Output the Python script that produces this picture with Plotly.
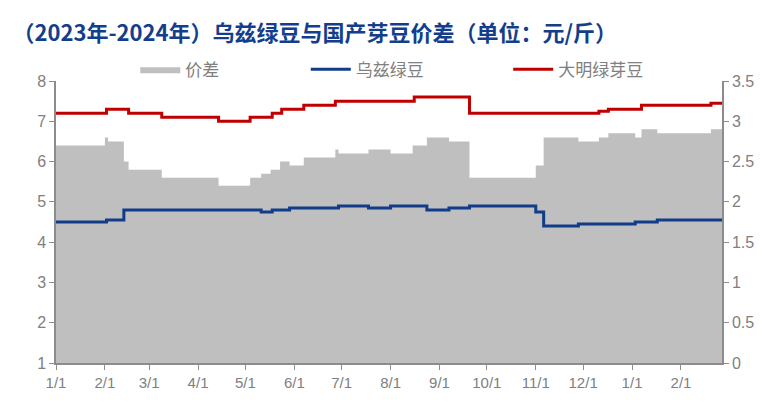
import plotly.graph_objects as go

# 大明绿芽豆 (元/斤), change points
red_dates = ["2023-01-01", "2023-02-02", "2023-02-16", "2023-03-09", "2023-04-14",
             "2023-05-04", "2023-05-18", "2023-05-24", "2023-06-07", "2023-06-27",
             "2023-08-16", "2023-09-20", "2023-12-11", "2023-12-17", "2024-01-07",
             "2024-02-20", "2024-02-27"]
red_vals = [7.2, 7.3, 7.2, 7.1, 7.0,
            7.1, 7.2, 7.3, 7.4, 7.5,
            7.6, 7.2, 7.25, 7.3, 7.4,
            7.45, 7.45]

# 乌兹绿豆 (元/斤), change points
blue_dates = ["2023-01-01", "2023-02-02", "2023-02-13", "2023-05-11", "2023-05-18",
              "2023-05-29", "2023-06-29", "2023-07-18", "2023-08-01", "2023-08-24",
              "2023-09-07", "2023-09-20", "2023-11-01", "2023-11-06", "2023-11-28",
              "2024-01-03", "2024-01-17", "2024-02-27"]
blue_vals = [4.5, 4.55, 4.8, 4.75, 4.8,
             4.85, 4.9, 4.85, 4.9, 4.8,
             4.85, 4.9, 4.75, 4.4, 4.45,
             4.5, 4.55, 4.55]

# 价差 (元/斤), change points
spread_dates = ["2023-01-01", "2023-02-01", "2023-02-03", "2023-02-13", "2023-02-16",
                "2023-03-09", "2023-04-14", "2023-05-04", "2023-05-11", "2023-05-17",
                "2023-05-23", "2023-05-29", "2023-06-07", "2023-06-27", "2023-06-29",
                "2023-07-18", "2023-08-01", "2023-08-15", "2023-08-24", "2023-09-07",
                "2023-09-20", "2023-11-01", "2023-11-06", "2023-11-28", "2023-12-11",
                "2023-12-17", "2024-01-03", "2024-01-07", "2024-01-17", "2024-02-20",
                "2024-02-27"]
spread_vals = [2.7, 2.8, 2.75, 2.5, 2.4,
               2.3, 2.2, 2.3, 2.35, 2.4,
               2.5, 2.45, 2.55, 2.65, 2.6,
               2.65, 2.6, 2.7, 2.8, 2.75,
               2.3, 2.45, 2.8, 2.75, 2.8,
               2.85, 2.8, 2.9, 2.85, 2.9,
               2.9]

month_ticks = ["2023-01-01", "2023-02-01", "2023-03-01", "2023-04-01", "2023-05-01",
               "2023-06-01", "2023-07-01", "2023-08-01", "2023-09-01", "2023-10-01",
               "2023-11-01", "2023-12-01", "2024-01-01", "2024-02-01"]
month_labels = ["1/1", "2/1", "3/1", "4/1", "5/1", "6/1", "7/1", "8/1", "9/1",
                "10/1", "11/1", "12/1", "1/1", "2/1"]

GRAY_TXT = "#808080"
AXIS_LINE = "#8c8c8c"
CJK = "Noto Sans CJK SC"
NUM = "Liberation Sans Narrow, Arial Narrow, Liberation Sans, sans-serif"

fig = go.Figure()

# spread area on the primary axis (drawn right side) so lines sit on top
fig.add_trace(go.Scatter(
    x=spread_dates, y=spread_vals, name="价差",
    mode="lines", line=dict(width=0, shape="hv", color="#BFBFBF"),
    fill="tozeroy", fillcolor="#BFBFBF",
    yaxis="y", legend="legend",
))

fig.add_trace(go.Scatter(
    x=blue_dates, y=blue_vals, name="乌兹绿豆",
    mode="lines", line=dict(width=3, shape="hv", color="#113C8A"),
    yaxis="y2", legend="legend2",
))

fig.add_trace(go.Scatter(
    x=red_dates, y=red_vals, name="大明绿芽豆",
    mode="lines", line=dict(width=3, shape="hv", color="#C00000"),
    yaxis="y2", legend="legend3",
))

legend_common = dict(
    orientation="h", yanchor="middle", y=1.04, xanchor="left",
    font=dict(family=CJK, size=17, color=GRAY_TXT),
    bgcolor="rgba(0,0,0,0)", itemwidth=40,
)

# page body adds an 8px offset, so the figure is 8px smaller than the window
fig.update_layout(
    width=760, height=405,
    margin=dict(l=48, r=46, t=73, b=50),
    paper_bgcolor="white", plot_bgcolor="white",
    title=dict(
        text="<b>（2023年-2024年）乌兹绿豆与国产芽豆价差（单位：元/斤）</b>",
        x=0.006, xanchor="left", y=0.938, yanchor="middle",
        font=dict(family=CJK, size=22, color="#123E8C"),
    ),
    showlegend=True,
    legend=dict(x=0.119, **legend_common),
    legend2=dict(x=0.375, **legend_common),
    legend3=dict(x=0.679, **legend_common),
    xaxis=dict(
        type="date", range=["2023-01-01", "2024-02-27"],
        tickvals=month_ticks, ticktext=month_labels,
        ticks="outside", ticklen=5, tickcolor=AXIS_LINE,
        showline=True, linecolor=AXIS_LINE, linewidth=1.5,
        showgrid=False, zeroline=False,
        tickfont=dict(family=NUM, size=15, color=GRAY_TXT),
    ),
    yaxis=dict(
        side="right", range=[0, 3.5], dtick=0.5,
        ticks="outside", ticklen=5, tickcolor=AXIS_LINE,
        showline=True, linecolor=AXIS_LINE, linewidth=1.5,
        showgrid=False, zeroline=False,
        tickfont=dict(family=NUM, size=16, color=GRAY_TXT),
    ),
    yaxis2=dict(
        side="left", overlaying="y", range=[1, 8], dtick=1,
        ticks="outside", ticklen=5, tickcolor=AXIS_LINE,
        showline=True, linecolor=AXIS_LINE, linewidth=1.5,
        showgrid=False, zeroline=False,
        tickfont=dict(family=NUM, size=16, color=GRAY_TXT),
    ),
)

fig.write_html("out.html")
